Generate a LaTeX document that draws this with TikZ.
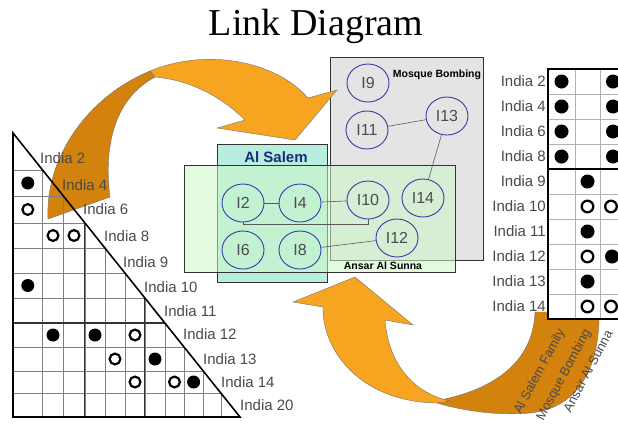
\documentclass[tikz,border=0pt]{standalone}
\usepackage{fontspec}
\setmainfont{Liberation Serif}
\newfontfamily\arial{Liberation Sans}
\usetikzlibrary{shapes.geometric}
\definecolor{orL}{HTML}{F7A521}
\definecolor{orD}{HTML}{D4820E}
\definecolor{grayfill}{HTML}{E4E4E4}
\definecolor{salem}{HTML}{B8EEDF}
\definecolor{ansar}{HTML}{CCF7C8}
\definecolor{ellblue}{HTML}{3A3AA6}
\definecolor{navy}{HTML}{1F2A7A}
\definecolor{labgray}{HTML}{4A4A4A}
\begin{document}
\begin{tikzpicture}[x=1pt,y=-1pt,
  ent/.style={ellipse, draw=ellblue, line width=0.9pt, minimum width=42pt, minimum height=38pt, inner sep=0pt, font=\arial\fontsize{16}{16}\selectfont, text=black!70},
  link/.style={draw=black!65, line width=0.6pt},
  group/.style={rectangle, draw=black!80, line width=1.1pt, inner sep=0pt, anchor=north west},
  lab/.style={font=\arial\fontsize{15}{15}\selectfont, text=labgray, inner sep=0pt},
  collab/.style={font=\arial\fontsize{13}{13}\selectfont, text=labgray, inner sep=0pt, rotate=62, anchor=east},
  grplab/.style={font=\arial\bfseries\fontsize{10.5}{10.5}\selectfont, inner sep=0pt},
  arrowbody/.style={draw=black!55, line width=0.4pt},
  gridline/.style={draw=black!50, line width=0.6pt},
  gridthick/.style={draw=black!80, line width=1.1pt},
  rgrid/.style={draw=black!30, line width=0.6pt},
]
\useasboundingbox (0,0) rectangle (618,429);
\fill[white] (0,0) rectangle (618,429);

% title
\node[font=\fontsize{38}{38}\selectfont, anchor=base, inner sep=0pt] (title) at (316,35.5) {Link Diagram};

% group boxes
\node[group, fill=grayfill, minimum width=153pt, minimum height=203pt] (mosque) at (330,57) {};
\node[group, fill=salem, minimum width=110pt, minimum height=138pt] (salembox) at (217,144) {};
\node[group, fill=ansar, fill opacity=0.55, minimum width=271pt, minimum height=107pt] (ansarbox) at (184,165) {};
\node[grplab, text=navy, font=\arial\bfseries\fontsize{15}{15}\selectfont] (salemlab) at (276,157) {Al Salem};
\node[grplab] (mosquelab) at (437,75) {Mosque Bombing};
\node[grplab] (ansarlab) at (383,266) {Ansar Al Sunna};

% entities
\node[ent] (I9) at (368,83) {I9};
\node[ent] (I11) at (367,130) {I11};
\node[ent] (I13) at (447,116) {I13};
\node[ent] (I2) at (243,203) {I2};
\node[ent] (I4) at (300,203) {I4};
\node[ent] (I10) at (368,200) {I10};
\node[ent] (I14) at (423,198) {I14};
\node[ent] (I6) at (243,250) {I6};
\node[ent] (I8) at (300,250) {I8};
\node[ent] (I12) at (397,238) {I12};

\draw[link] (I11) -- (I13);
\draw[link] (I13) -- (I14);
\draw[link] (I2) -- (I4);
\draw[link] (I4) -- (I10);
\draw[link] (I8) -- (I12);
\draw[link] (I2.south) -- ++(0,2) -| (I10.south);

% top curved arrow
\path[arrowbody, fill=orD] (48,219) -- (110,197) .. controls (104,150) and (112,100) .. (155,77)
  -- (150,71) .. controls (85,98) and (45,160) .. (48,219) -- cycle;
\path[arrowbody, fill=orL] (150,71) .. controls (205,48) and (275,60) .. (308,98) -- (337,90) -- (295,140)
  -- (217,128) -- (245,120) .. controls (222,97) and (190,80) .. (155,77) -- cycle;

% bottom curved arrow
\path[arrowbody, fill=orD] (535,312) -- (599,312) .. controls (600,365) and (580,408) .. (530,413)
  .. controls (495,416) and (460,410) .. (437,403) -- (440,400) .. controls (490,390) and (533,365) .. (535,312) -- cycle;
\path[arrowbody, fill=orL] (437,403) .. controls (360,402) and (322,350) .. (323,307) -- (293,302) -- (355,277)
  -- (413,325) -- (385,320) .. controls (388,360) and (410,392) .. (450,401) -- cycle;

% left triangular matrix
\foreach \yy/\xx in {170/42.6,196/63.4,223/84.9,248/104.9,273/124.9,298/144.9,323/164.9,347/184.0,371/203.2,393/220.8}
  {\draw[gridline] (13,\yy) -- (\xx,\yy) -- (\xx,417);}
\draw[gridthick] (13,323) -- (164.9,323);
\draw[gridthick] (144.9,298) -- (144.9,417);
\draw[gridthick] (84.9,223) -- (84.9,417);
\draw[black, line width=1.6pt, line join=miter] (13,133) -- (13,417) -- (240,417) -- cycle;
\foreach \px/\py in {27.8/183,27.8/285.5,53/335,95/335,155/359,193.6/382}
  {\fill[black] (\px,\py) circle (6.5);}
\foreach \px/\py in {27.8/209.5,53/235.5,74/235.5,135/335,115/359,135/382,174.5/382}
  {\draw[black, line width=2.2pt] (\px,\py) circle (5.4);}
\node[lab, anchor=west] (L2) at (40,158) {India 2};
\node[lab, anchor=west] (L4) at (62,185) {India 4};
\node[lab, anchor=west] (L6) at (83,209) {India 6};
\node[lab, anchor=west] (L8) at (104,236) {India 8};
\node[lab, anchor=west] (L9) at (123,262) {India 9};
\node[lab, anchor=west] (L10) at (144,287) {India 10};
\node[lab, anchor=west] (L11) at (164,311) {India 11};
\node[lab, anchor=west] (L12) at (183,334) {India 12};
\node[lab, anchor=west] (L13) at (203,359) {India 13};
\node[lab, anchor=west] (L14) at (221,382) {India 14};
\node[lab, anchor=west] (L20) at (240,405) {India 20};

% right matrix
\fill[white] (548,69) rectangle (630,319);
\foreach \k in {1,...,9} {\draw[rgrid] (548,69+25*\k) -- (630,69+25*\k);}
\draw[rgrid] (575,69) -- (575,319);
\draw[rgrid] (600,69) -- (600,319);
\draw[black, line width=1.1pt] (548,169) -- (630,169);
\draw[black, line width=1.2pt] (630,69) -- (548,69) -- (548,319) -- (630,319);
\foreach \px/\py in {561.5/81.5,561.5/106.5,561.5/131.5,561.5/156.5,613/81.5,613/106.5,613/131.5,613/156.5,
  587.5/181.5,587.5/231.5,612/256.5,587.5/281.5}
  {\fill[black] (\px,\py) circle (7);}
\foreach \px/\py in {587.5/206.5,611/206.5,587.5/256.5,587.5/306.5,611/306.5}
  {\draw[black, line width=2.3pt] (\px,\py) circle (5.8);}
\node[lab, anchor=east] (R2) at (546,81.5) {India 2};
\node[lab, anchor=east] (R4) at (546,106.5) {India 4};
\node[lab, anchor=east] (R6) at (546,131.5) {India 6};
\node[lab, anchor=east] (R8) at (546,156.5) {India 8};
\node[lab, anchor=east] (R9) at (546,181.5) {India 9};
\node[lab, anchor=east] (R10) at (546,206.5) {India 10};
\node[lab, anchor=east] (R11) at (546,231.5) {India 11};
\node[lab, anchor=east] (R12) at (546,256.5) {India 12};
\node[lab, anchor=east] (R13) at (546,281.5) {India 13};
\node[lab, anchor=east] (R14) at (546,306.5) {India 14};
\node[collab] (C1) at (562,330) {Al Salem Family};
\node[collab] (C2) at (588,330) {Mosque Bombing};
\node[collab] (C3) at (609,331) {Ansar Al Sunna};
\end{tikzpicture}
\end{document}
